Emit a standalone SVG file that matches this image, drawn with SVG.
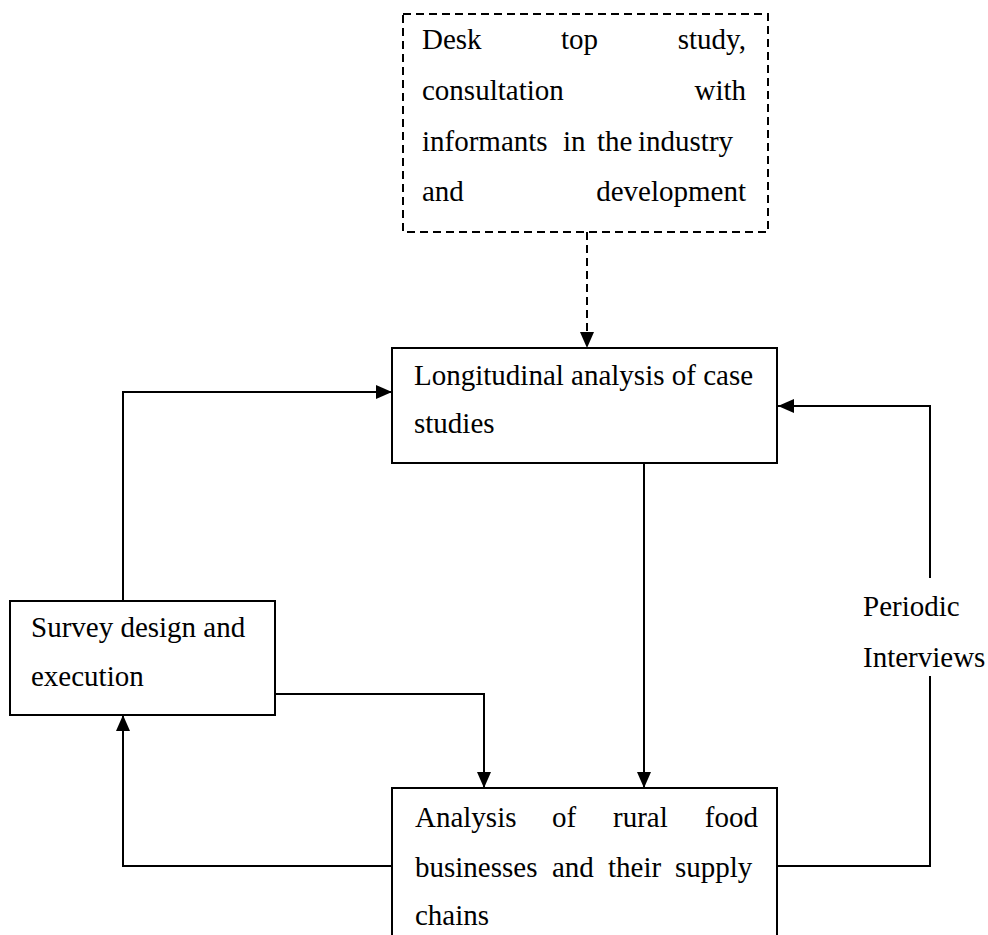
<svg xmlns="http://www.w3.org/2000/svg" width="988" height="935" viewBox="0 0 988 935">
  <style>
    .box { fill: #ffffff; stroke: #000000; stroke-width: 2; }
    .dashed { stroke-dasharray: 8 5; }
    .label { font-family: "Liberation Serif", "Times New Roman", serif; font-size: 29px; fill: #000000; }
    .end { text-anchor: end; }
    .wire { fill: none; stroke: #000000; stroke-width: 2; }
  </style>
  <defs>
    <marker id="arrow" markerUnits="userSpaceOnUse" markerWidth="16" markerHeight="14" refX="16" refY="7" orient="auto">
      <path d="M0,0 L16,7 L0,14 Z" fill="#000000"/>
    </marker>
  </defs>
  <rect width="988" height="935" fill="#ffffff"/>

  <!-- connectors -->
  <g id="connectors">
    <path class="wire dashed" d="M587,232 L587,348" marker-end="url(#arrow)"/>
    <path class="wire" d="M123,601 L123,392 L392,392" marker-end="url(#arrow)"/>
    <path class="wire" d="M644,463 L644,788" marker-end="url(#arrow)"/>
    <path class="wire" d="M275,694 L484,694 L484,788" marker-end="url(#arrow)"/>
    <path class="wire" d="M392,866 L123,866 L123,715" marker-end="url(#arrow)"/>
    <path class="wire" d="M777,866 L930,866 L930,676"/>
    <path class="wire" d="M930,578 L930,406 L778,406" marker-end="url(#arrow)"/>
  </g>

  <!-- desk study -->
  <g id="desk-study">
    <rect class="box dashed" x="403" y="14" width="365" height="218"/>
    <text class="label" x="422" y="49">Desk</text>
    <text class="label" x="561" y="49">top</text>
    <text class="label end" x="746" y="49">study,</text>
    <text class="label" x="422" y="100">consultation</text>
    <text class="label end" x="746" y="100">with</text>
    <text class="label" x="422" y="151">informants</text>
    <text class="label" x="563" y="151">in</text>
    <text class="label" x="597" y="151">the</text>
    <text class="label" x="638" y="151">industry</text>
    <text class="label" x="422" y="201">and</text>
    <text class="label end" x="746" y="201">development</text>
  </g>

  <!-- longitudinal analysis -->
  <g id="longitudinal">
    <rect class="box" x="392" y="348" width="385" height="115"/>
    <text class="label" x="414" y="385">Longitudinal analysis of case</text>
    <text class="label" x="414" y="433">studies</text>
  </g>

  <!-- survey -->
  <g id="survey">
    <rect class="box" x="10" y="601" width="265" height="114"/>
    <text class="label" x="31" y="637">Survey design and</text>
    <text class="label" x="31" y="686">execution</text>
  </g>

  <!-- rural food businesses -->
  <g id="rural-food">
    <rect class="box" x="392" y="788" width="385" height="160"/>
    <text class="label" x="415" y="827">Analysis</text>
    <text class="label" x="552" y="827">of</text>
    <text class="label" x="613" y="827">rural</text>
    <text class="label end" x="758" y="827">food</text>
    <text class="label" x="415" y="877">businesses</text>
    <text class="label" x="552" y="877">and</text>
    <text class="label" x="608" y="877">their</text>
    <text class="label" x="675" y="877">supply</text>
    <text class="label" x="415" y="925">chains</text>
  </g>

  <!-- connector label -->
  <g id="periodic-label">
    <text class="label" x="863" y="616">Periodic</text>
    <text class="label" x="863" y="667">Interviews</text>
  </g>
</svg>
